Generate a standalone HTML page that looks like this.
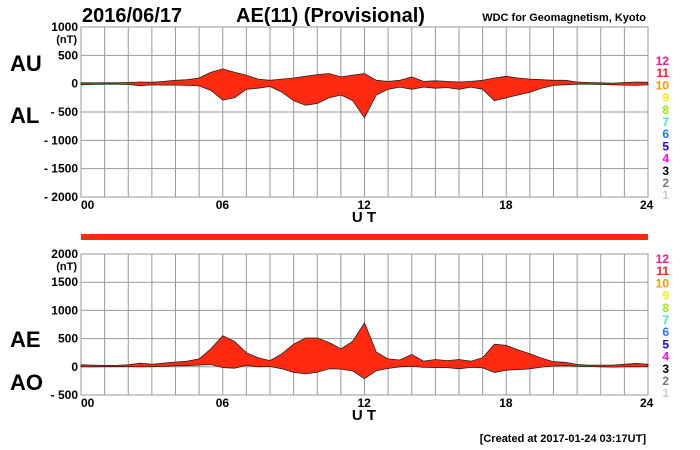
<!DOCTYPE html>
<html><head><meta charset="utf-8">
<style>
body{margin:0;background:#fff;}
svg{display:block;font-family:"Liberation Sans",Arial,sans-serif;}
</style></head>
<body>
<svg id="c" width="700" height="450" viewBox="0 0 700 450" xmlns="http://www.w3.org/2000/svg">
<text x="82" y="22" font-size="20" font-weight="bold">2016/06/17</text>
<text x="236" y="22" font-size="20" font-weight="bold">AE(11) (Provisional)</text>
<text x="646" y="21" font-size="11" font-weight="bold" text-anchor="end">WDC for Geomagnetism, Kyoto</text>
<text x="10" y="71" font-size="22" font-weight="bold">AU</text>
<text x="10" y="123" font-size="22" font-weight="bold">AL</text>
<text x="10" y="347" font-size="22" font-weight="bold">AE</text>
<text x="10" y="390" font-size="22" font-weight="bold">AO</text>
<rect x="81" y="234" width="567" height="6" fill="#ff2a10"/>
<text x="646" y="442" font-size="11" font-weight="bold" text-anchor="end">[Created at 2017-01-24 03:17UT]</text>
<g id="g"></g>
</svg>
<script>
const hours = [0,0.5,1,1.5,2,2.5,3,3.5,4,4.5,5,5.5,6,6.5,7,7.5,8,8.5,9,9.5,10,10.5,11,11.5,12,12.5,13,13.5,14,14.5,15,15.5,16,16.5,17,17.5,18,18.5,19,19.5,20,20.5,21,21.5,22,22.5,23,23.5,24];
const auValues = [15,15,15,15,20,30,25,40,60,70,100,200,260,200,150,80,60,80,100,130,160,180,120,150,180,60,40,60,120,40,50,40,30,40,60,100,130,100,80,70,60,60,30,20,15,10,20,30,25];
const alValues = [-20,-15,-10,-10,-15,-35,-20,-25,-25,-30,-40,-120,-290,-250,-100,-80,-50,-150,-300,-380,-350,-250,-200,-300,-600,-200,-100,-60,-100,-60,-80,-70,-100,-60,-100,-300,-250,-200,-150,-80,-30,-20,-10,-10,-15,-20,-25,-30,-20];
const topTicks = [1000,500,0,-500,-1000,-1500,-2000];
const topTickLabels = ["1000","500","0","- 500","- 1000","- 1500","- 2000"];
const botTicks = [2000,1500,1000,500,0,-500];
const botTickLabels = ["2000","1500","1000","500","0","- 500"];
const hourLabels = ["00","06","12","18","24"];
const legendNums = ["12","11","10","9","8","7","6","5","4","3","2","1"];
const legendColors = ["#ff1493","#ff2020","#ff9900","#ffee00","#99ee00","#33eecc","#2277ff","#2200ff","#ff00ff","#000000","#777777","#cccccc"];

const NS="http://www.w3.org/2000/svg";
const g=document.getElementById('g');
const X0=81,X1=648;
const xs=h=>X0+(X1-X0)*h/24;
function mk(tag,attrs,parent){const e=document.createElementNS(NS,tag);for(const k in attrs)e.setAttribute(k,attrs[k]);(parent||g).appendChild(e);return e;}

function panel(yTop,yBot,vMax,vMin,ticks,labels,upper,lower,name,legTop){
  const ys=v=>yTop+(vMax-v)*(yBot-yTop)/(vMax-vMin);
  const pg=mk('g',{});
  
  
  const bg=mk('rect',{x:X0,y:yTop,width:X1-X0,height:yBot-yTop,fill:'none',stroke:'#999','stroke-width':1},pg);
  
  
  for(let h=1;h<24;h++){
    const l=mk('line',{x1:xs(h),x2:xs(h),y1:yTop,y2:yBot,stroke:'#999','stroke-width':1},pg);
    
    
  }
  ticks.forEach((t,i)=>{
    const l=mk('line',{x1:X0,x2:X1,y1:ys(t),y2:ys(t),stroke:'#999','stroke-width':1},pg);
    
    
    const tx=mk('text',{x:X0-3,y:ys(t)+4,'font-size':12,'font-weight':'bold','text-anchor':'end'},pg);
    tx.textContent=labels[i];
    
    
  });
  const u=mk('text',{x:X0-4,y:ys(ticks[0])+16,'font-size':11,'font-weight':'bold','text-anchor':'end'},pg);
  u.textContent='(nT)';
  
  
  let d='';
  hours.forEach((h,i)=>{d+=(i?'L':'M')+xs(h).toFixed(1)+','+ys(upper[i]).toFixed(1);});
  for(let i=hours.length-1;i>=0;i--)d+='L'+xs(hours[i]).toFixed(1)+','+ys(lower[i]).toFixed(1);
  d+='Z';
  const a=mk('path',{d:d,fill:'#ff2a10',stroke:'#222','stroke-width':0.8},pg);
  
  
  hourLabels.forEach((s,i)=>{
    const tx=mk('text',{x:xs(i*6)+(i===0?0:(i===4?-8:-7)),y:yBot+12,'font-size':12,'font-weight':'bold'},pg);
    tx.textContent=s;
    
    
  });
  const ut=mk('text',{x:364,y:yBot+25,'font-size':15,'font-weight':'bold','text-anchor':'middle'},pg);
  ut.textContent='U T';
  
  
  legendNums.forEach((n,i)=>{
    const tx=mk('text',{x:669,y:legTop+i*12.2,'font-size':12,'font-weight':'bold','text-anchor':'end',fill:legendColors[i]},pg);
    tx.textContent=n;
    
    
  });
}
const aeValues=auValues.map((v,i)=>v-alValues[i]);
const aoValues=auValues.map((v,i)=>(v+alValues[i])/2);
panel(27,197,1000,-2000,topTicks,topTickLabels,auValues,alValues,'au-al',65);
panel(254,395,2000,-500,botTicks,botTickLabels,aeValues,aoValues,'ae-ao',263);
</script>
</body></html>
